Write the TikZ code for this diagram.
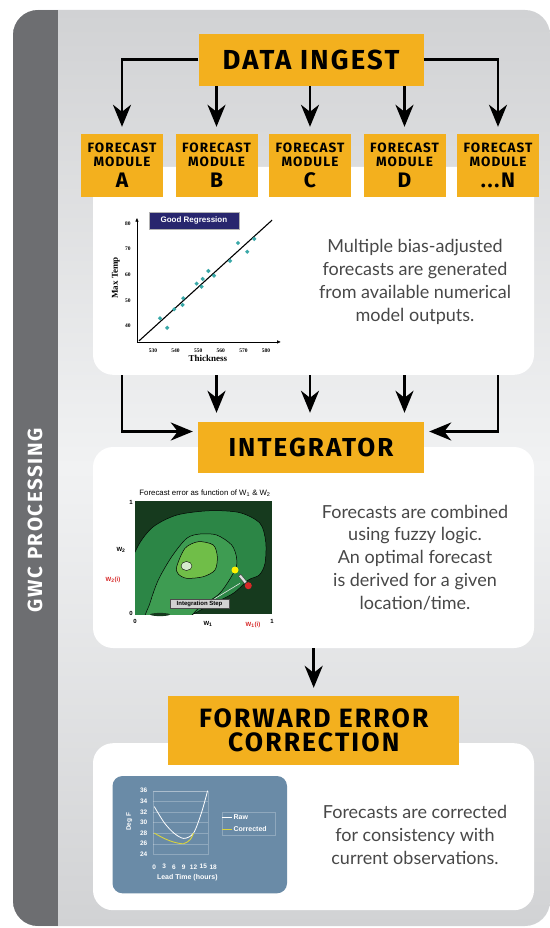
\documentclass[tikz,border=0pt]{standalone}
\usepackage{fontspec}
\setmainfont{Lato}
\newfontfamily\headfont{Fira Sans}[LetterSpace=8]
\newfontfamily\chartfont{Liberation Sans}
\newfontfamily\chartserif{Liberation Serif}
\usetikzlibrary{positioning,arrows.meta,calc}
\definecolor{gwcorange}{RGB}{243,176,30}
\definecolor{gwcbar}{RGB}{109,110,113}
\definecolor{panelgray}{RGB}{209,210,212}
\definecolor{panellight}{RGB}{241,242,243}
\definecolor{bodygray}{RGB}{72,72,72}
\definecolor{regnavy}{RGB}{40,38,110}
\definecolor{dotteal}{RGB}{58,168,168}
\definecolor{chartblue}{RGB}{106,139,167}
\definecolor{corryellow}{RGB}{218,212,60}
\definecolor{errdark}{RGB}{22,58,30}
\definecolor{errgreen}{RGB}{44,134,70}
\definecolor{errmid}{RGB}{62,156,82}
\definecolor{errlight}{RGB}{112,190,72}
\definecolor{errpale}{RGB}{214,234,206}
\definecolor{errred}{RGB}{215,40,40}

\begin{document}
\begin{tikzpicture}[x=1pt, y=-1pt,
  stagebox/.style={fill=gwcorange, inner sep=0pt, align=center,
    font=\headfont\bfseries\fontsize{26.5}{24}\selectfont},
  module/.style={fill=gwcorange, inner sep=0pt, align=center, minimum width=82pt,
    minimum height=63pt, font=\headfont\bfseries\fontsize{13.5}{14}\selectfont},
  card/.style={fill=white, rounded corners=20pt, minimum width=441pt, inner sep=0pt},
  blurb/.style={align=center, text=bodygray, font=\fontsize{18}{22.8}\selectfont},
  flow/.style={-{Stealth[length=22pt, width=18pt, inset=7pt]}, line width=2.8pt},
  tick/.style={inner sep=0pt, font=\chartserif\bfseries\fontsize{5.5}{6}\selectfont},
  ctick/.style={inner sep=0pt, font=\chartfont\bfseries\fontsize{6}{7}\selectfont},
  wtick/.style={inner sep=0pt, text=white, font=\chartfont\bfseries\fontsize{6.5}{7}\selectfont},
  >=Stealth]
\useasboundingbox (0,0) rectangle (549,928);

\shade[top color=panelgray, bottom color=panelgray, middle color=panellight,
  rounded corners=25pt] (13,10) rectangle (550,926);
\begin{scope}
  \clip[rounded corners=25pt] (13,10) rectangle (550,926);
  \fill[gwcbar] (13,10) rectangle (57.8,926);
\end{scope}
\node[rotate=90, text=white, font=\headfont\bfseries\fontsize{20.5}{21}\selectfont] (gwc) at (35,520) {GWC PROCESSING};

\node[card, minimum height=208pt] (carda) at (313.5,270.8) {};
\node[card, minimum height=201pt] (cardb) at (313.5,547.5) {};
\node[card, minimum height=167pt] (cardc) at (313.5,826.7) {};

\node[stagebox, minimum width=225pt, minimum height=52pt,
  font=\headfont\bfseries\fontsize{27.5}{28}\selectfont] (ingest) at (311,59.9) {DATA INGEST};
\node[module] (moda) at (122,165.5) {FORECAST\\MODULE\\[5pt]{\fontsize{21}{20}\selectfont A}};
\node[module] (modb) at (216.5,165.5) {FORECAST\\MODULE\\[5pt]{\fontsize{21}{20}\selectfont B}};
\node[module] (modc) at (310,165.5) {FORECAST\\MODULE\\[5pt]{\fontsize{21}{20}\selectfont C}};
\node[module] (modd) at (404.5,165.5) {FORECAST\\MODULE\\[5pt]{\fontsize{21}{20}\selectfont D}};
\node[module] (modn) at (498,165.5) {FORECAST\\MODULE\\[5pt]{\fontsize{21}{20}\selectfont ...N}};
\node[stagebox, minimum width=226pt, minimum height=51pt,
  font=\headfont\bfseries\fontsize{26}{26}\selectfont] (integrator) at (311,447.5) {INTEGRATOR};
\node[stagebox, minimum width=291pt, minimum height=69pt] (fec) at (313.7,730.5) {FORWARD ERROR\\CORRECTION};

\draw[flow, shorten >=7pt] (ingest.west) -| (moda.north);
\draw[flow, shorten >=7pt] (ingest.east) -| (modn.north);
\foreach \m in {modb,modc,modd}
  \draw[flow, shorten >=7pt] (ingest.south -| \m.north) -- (\m.north);
\draw[flow, shorten >=5pt] (carda.south -| moda) |- ([yshift=16pt]integrator.west);
\draw[flow, shorten >=5pt] (carda.south -| modn) |- ([yshift=16pt]integrator.east);
\foreach \m in {modb,modc,modd}
  \draw[flow, shorten >=9pt] (carda.south -| \m) -- (integrator.north -| \m);
\draw[flow, shorten >=8pt] (cardb.south -| fec) -- (fec.north);

\node[blurb] (texta) at (415,282) {Multiple bias-adjusted\\forecasts are generated\\from available numerical\\model outputs.};
\node[blurb] (textb) at (415,557.5) {Forecasts are combined\\using fuzzy logic.\\An optimal forecast\\is derived for a given\\location/time.};
\node[blurb] (textc) at (415,835) {Forecasts are corrected\\for consistency with\\current observations.};

% regression chart
\begin{scope}[shift={(153,326)}, x=2.26pt, y=2.57pt]
  \draw[line width=0.6pt, -{Triangle[length=3.5pt, width=3pt]}] (-7.1,-6.2) -- (-7.1,42);
  \draw[line width=0.6pt, -{Triangle[length=3.5pt, width=3pt]}] (-7.1,-6.2) -- (56.5,-6.2);
  \draw[line width=1.1pt] (-6.2,-5.8) -- (52.7,41.2);
  \foreach \t/\v in {3.1/3.0, 6.3/-0.7, 9.4/6.5, 13.4/10.8, 13.1/8.2, 19.3/16.5,
      21.5/15.3, 22.0/18.3, 24.5/21.4, 27.0/19.6, 34.1/25.3, 37.6/32.3, 41.7/28.9, 44.8/33.9}
    \fill[dotteal] (\t,\v) ++(0pt,2.2pt) -- ++(2.2pt,-2.2pt) -- ++(-2.2pt,-2.2pt) -- ++(-2.2pt,2.2pt) -- cycle;
  \foreach \v in {40,50,...,80}
    \node[tick] (ylab\v) at (-11.1,\v-40) {\v};
  \foreach \v in {530,540,...,580}
    \node[tick] (xlab\v) at (\v-530,-9.7) {\v};
  \node[font=\chartserif\bfseries\fontsize{9}{9}\selectfont, inner sep=0pt] (thick) at (24.3,-12.8) {Thickness};
  \node[rotate=90, font=\chartserif\bfseries\fontsize{9}{9}\selectfont, inner sep=0pt] (maxt) at (-16.4,18.7) {Max Temp};
  \node[fill=regnavy, draw=gray!60, line width=0.4pt, text=white, minimum width=90pt, minimum height=17pt, inner sep=0pt,
    font=\chartfont\bfseries\fontsize{8}{8}\selectfont] (goodreg) at (18.1,41.05) {Good Regression};
\end{scope}

% error surface
\node[font=\chartfont\fontsize{7.8}{8}\selectfont, inner sep=0pt] (errtitle) at (205,493)
  {Forecast error as function of W\textsubscript{1} \& W\textsubscript{2}};
\fill[errdark] (135,501) rectangle (272,614);
\begin{scope}
  \clip (135,501) rectangle (272,614);
  \filldraw[fill=errgreen, line width=0.5pt] plot[smooth cycle] coordinates {(128,624) (130,570)
    (138,546) (153,527) (177,515) (210,510.7) (240,512.7) (260,523.3) (265.7,541.7) (265,563.3)
    (259.3,575) (248.3,580) (233.3,593.3) (210,605) (186.7,617) (160,624)};
  \filldraw[fill=errmid, line width=0.5pt] plot[smooth cycle] coordinates {(145,624) (150,603)
    (158.3,580) (171.7,556.7) (186.7,538.3) (200,534) (216.7,535) (231.7,545) (236.7,558.3)
    (235,570) (220,593) (200,607) (180,624)};
  \filldraw[fill=errlight, line width=0.5pt] plot[smooth cycle] coordinates {(176.7,566.7)
    (185,548.3) (198.3,541.7) (213.3,545) (217.3,556.7) (215,570) (203.3,576.7) (186.7,578.3)
    (178.3,574)};
  \filldraw[fill=errpale, line width=0.4pt] (186.5,566) ellipse [x radius=5.5pt, y radius=4.5pt];
\end{scope}
\fill[errdark] (160,614.5) ellipse [x radius=10pt, y radius=1.6pt];
\fill[yellow] (235,570) circle[radius=3.5pt];
\fill[errred] (248.3,585.7) circle[radius=3.5pt];
\draw[line width=3.4pt, black!70] (246,583) -- (239.5,575);
\draw[line width=2.2pt, gray!25] (245.6,582.4) -- (239.9,575.6);
\node[fill=gray!35, draw=black!70, line width=0.4pt, inner sep=0pt, minimum width=59pt,
  minimum height=9pt, font=\chartfont\bfseries\fontsize{6}{6}\selectfont] (intstep) at (199.5,603.5) {Integration Step};
\draw[gray!20, line width=0.6pt] ([xshift=15pt]intstep.north) -- (240,583.3);
\node[ctick] (ytop) at (131,502) {1};
\node[ctick] (yzero) at (131,613) {0};
\node[ctick] (xzero) at (135,621) {0};
\node[ctick] (xone) at (272,621) {1};
\node[ctick] (wtwo) at (121,550) {W\textsubscript{2}};
\node[ctick] (wone) at (208,624) {W\textsubscript{1}};
\node[ctick, text=errred] (wtwoi) at (113,580) {W\textsubscript{2}(i)};
\node[ctick, text=errred] (wonei) at (253,625) {W\textsubscript{1}(i)};

% correction chart
\fill[chartblue, rounded corners=10pt] (112.5,776) rectangle (287,893.3);
\begin{scope}[shift={(154.3,854.3)}, x=3.27pt, y=5.3pt]
  \foreach \g in {2,4,...,12}
    \draw[white, opacity=0.25, line width=0.3pt] (-0.5,\g) -- (16.5,\g);
  \draw[white, opacity=0.25, line width=0.3pt] (-0.5,0) rectangle (16.5,12);
  \draw[white, line width=0.8pt] plot[smooth] coordinates {(0,9) (3,6) (6,4) (9,3) (12,4) (14.5,8) (16.3,12)};
  \draw[corryellow, line width=0.9pt] plot[smooth] coordinates {(0,4) (3,3) (6,2.3) (9,2) (11,2.8) (12,4)};
  \foreach \v in {24,26,...,36}
    \node[wtick, anchor=east] (dlab\v) at (-2.1,\v-24) {\v};
  \foreach \v in {0,3,...,18}
    \node[wtick] (hlab\v) at (\v,-2.35) {\v};
  \node[wtick, font=\chartfont\bfseries\fontsize{7}{7}\selectfont] (leadt) at (10.1,-4.5) {Lead Time (hours)};
  \node[wtick, rotate=90] (degf) at (-7.6,6.15) {Deg F};
  \draw[white, opacity=0.25, line width=0.3pt] (20.6,3.64) rectangle (36.9,8.04);
  \draw[white, line width=0.8pt] (20.85,6.98) -- (23.7,6.98);
  \draw[corryellow, line width=0.8pt] (20.85,4.77) -- (23.7,4.77);
  \node[wtick, anchor=west, font=\chartfont\bfseries\fontsize{7}{7}\selectfont] (rawkey) at (24.2,6.98) {Raw};
  \node[wtick, anchor=west, font=\chartfont\bfseries\fontsize{7}{7}\selectfont] (corrkey) at (24.2,4.77) {Corrected};
\end{scope}
\end{tikzpicture}
\end{document}
